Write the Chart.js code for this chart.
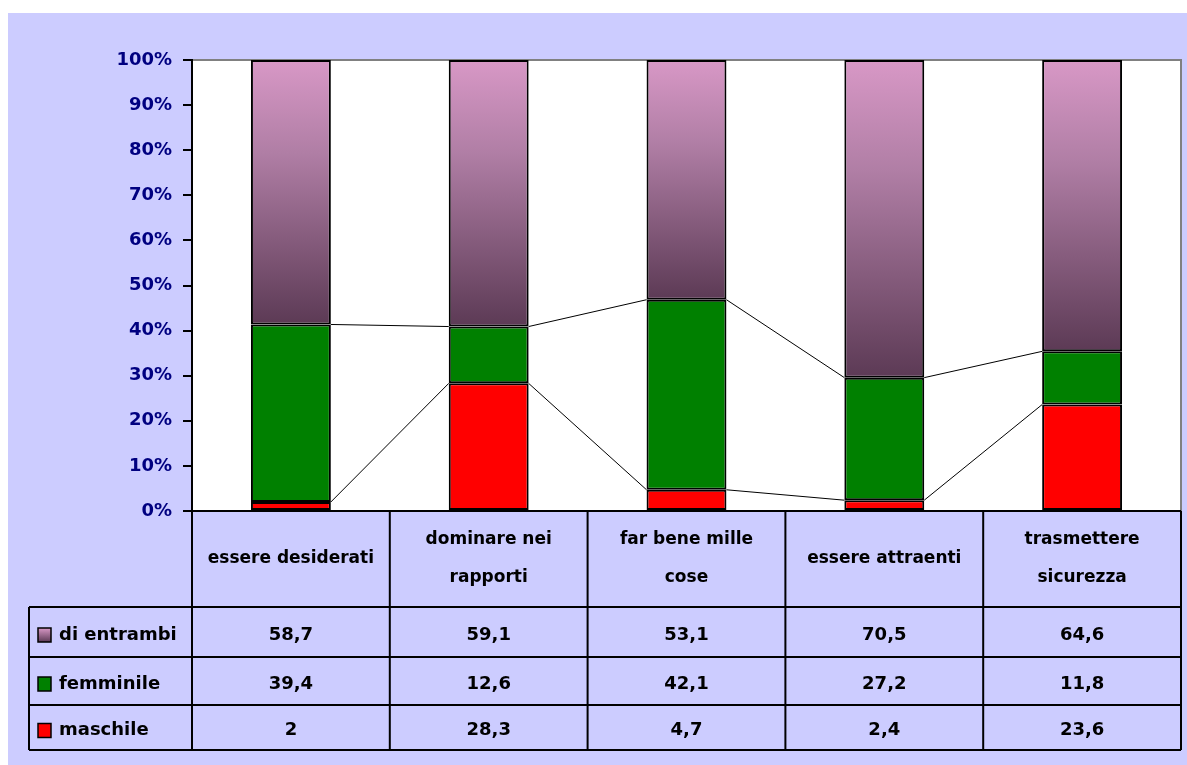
<!DOCTYPE html>
<html>
<head>
<meta charset="utf-8">
<script src="https://cdn.jsdelivr.net/npm/chart.js@4.4.1/dist/chart.umd.min.js"></script>
<style>
  html, body { margin: 0; padding: 0; background: #fff; }
  #wrap { width: 1187px; height: 765px; }
</style>
</head>
<body>
<div id="wrap"><canvas id="chart" width="1187" height="765"></canvas></div>
<script>
const categories = ['essere desiderati', 'dominare nei rapporti', 'far bene mille cose', 'essere attraenti', 'trasmettere sicurezza'];
const headerLines = [['essere desiderati'], ['dominare nei', 'rapporti'], ['far bene mille', 'cose'], ['essere attraenti'], ['trasmettere', 'sicurezza']];
const maschile = [2, 28.3, 4.7, 2.4, 23.6];
const femminile = [39.4, 12.6, 42.1, 27.2, 11.8];
const diEntrambi = [58.7, 59.1, 53.1, 70.5, 64.6];
const yTicks = [0, 10, 20, 30, 40, 50, 60, 70, 80, 90, 100];

const totals = categories.map((_, i) => maschile[i] + femminile[i] + diEntrambi[i]);
const pct = (arr) => arr.map((v, i) => v / totals[i] * 100);

const FONT = '"DejaVu Sans", sans-serif';
const LAVENDER = '#ccccff';

const purpleGradient = (ctx) => {
  const chart = ctx.chart;
  if (!chart.chartArea || ctx.dataIndex === undefined) return '#a06e96';
  const y = chart.scales.y;
  const i = ctx.dataIndex;
  const base = (maschile[i] + femminile[i]) / totals[i] * 100;
  const g = chart.ctx.createLinearGradient(0, y.getPixelForValue(100), 0, y.getPixelForValue(base));
  g.addColorStop(0, '#d898c6');
  g.addColorStop(0.35, '#b07ea5');
  g.addColorStop(1, '#5c3a55');
  return g;
};

const background = {
  id: 'background',
  beforeDraw(chart) {
    const { ctx, chartArea: a } = chart;
    ctx.save();
    ctx.fillStyle = '#fff';
    ctx.fillRect(0, 0, chart.width, chart.height);
    ctx.fillStyle = LAVENDER;
    ctx.fillRect(8, 13, chart.width - 8, chart.height - 13);
    ctx.fillStyle = '#fff';
    ctx.fillRect(a.left, a.top, a.right - a.left, a.bottom - a.top);
    ctx.strokeStyle = '#808080';
    ctx.lineWidth = 2;
    ctx.beginPath();
    ctx.moveTo(a.left, a.top);
    ctx.lineTo(a.right, a.top);
    ctx.lineTo(a.right, a.bottom);
    ctx.stroke();
    ctx.restore();
  }
};

// Excel style series lines between the stacked segments
const seriesLines = {
  id: 'seriesLines',
  afterDatasetsDraw(chart) {
    const ctx = chart.ctx;
    ctx.save();
    ctx.strokeStyle = '#000';
    ctx.lineWidth = 1;
    [0, 1].forEach(d => {
      const bars = chart.getDatasetMeta(d).data;
      for (let i = 0; i < bars.length - 1; i++) {
        const a = bars[i], b = bars[i + 1];
        ctx.beginPath();
        ctx.moveTo(a.x + a.width / 2, a.y);
        ctx.lineTo(b.x - b.width / 2, b.y);
        ctx.stroke();
      }
    });
    ctx.restore();
  }
};

const dataTable = {
  id: 'dataTable',
  afterDraw(chart) {
    const { ctx, chartArea: a } = chart;
    const x = chart.scales.x;
    const half = (x.getPixelForValue(1) - x.getPixelForValue(0)) / 2;
    const edges = categories.map((_, i) => x.getPixelForValue(i) - half);
    edges.push(x.getPixelForValue(categories.length - 1) + half);
    const right = edges[edges.length - 1];
    const tableLeft = 29;
    const top = a.bottom;
    const rowsY = [top + 96, top + 146, top + 194, top + 239];

    ctx.save();
    ctx.strokeStyle = '#000';
    ctx.lineWidth = 2;
    ctx.beginPath();
    ctx.moveTo(a.left, top);
    ctx.lineTo(right, top);
    rowsY.forEach(y => { ctx.moveTo(tableLeft, y); ctx.lineTo(right, y); });
    edges.forEach(ex => { ctx.moveTo(ex, top); ctx.lineTo(ex, rowsY[3]); });
    ctx.moveTo(tableLeft, rowsY[0]);
    ctx.lineTo(tableLeft, rowsY[3]);
    ctx.stroke();

    ctx.fillStyle = '#000';
    ctx.font = 'bold 17px ' + FONT;
    ctx.textAlign = 'center';
    ctx.textBaseline = 'middle';
    headerLines.forEach((lines, i) => {
      const cx = (edges[i] + edges[i + 1]) / 2;
      const cy = top + 48;
      lines.forEach((t, k) => {
        ctx.fillText(t, cx, cy + (k - (lines.length - 1) / 2) * 38);
      });
    });

    const rows = [
      { label: 'di entrambi', values: diEntrambi, color: null },
      { label: 'femminile', values: femminile, color: '#008000' },
      { label: 'maschile', values: maschile, color: '#ff0000' }
    ];
    ctx.font = 'bold 18px ' + FONT;
    rows.forEach((r, k) => {
      const y0 = rowsY[k], y1 = rowsY[k + 1];
      const cy = (y0 + y1) / 2 + 3;
      r.values.forEach((v, i) => {
        ctx.textAlign = 'center';
        ctx.fillText(String(v).replace('.', ','), (edges[i] + edges[i + 1]) / 2, cy);
      });
      let fill = r.color;
      if (!fill) {
        fill = ctx.createLinearGradient(0, cy - 7, 0, cy + 7);
        fill.addColorStop(0, '#d898c6');
        fill.addColorStop(1, '#5c3a55');
      }
      ctx.fillStyle = fill;
      ctx.fillRect(38, cy - 7, 13, 14);
      ctx.lineWidth = 1.5;
      ctx.strokeRect(38, cy - 7, 13, 14);
      ctx.fillStyle = '#000';
      ctx.textAlign = 'left';
      ctx.fillText(r.label, 59, cy);
    });
    ctx.restore();
  }
};

new Chart(document.getElementById('chart'), {
  type: 'bar',
  data: {
    labels: categories,
    datasets: [
      { label: 'maschile', data: pct(maschile), backgroundColor: '#ff0000' },
      { label: 'femminile', data: pct(femminile), backgroundColor: '#008000' },
      { label: 'di entrambi', data: pct(diEntrambi), backgroundColor: purpleGradient }
    ]
  },
  options: {
    responsive: false,
    animation: false,
    events: [],
    layout: {
      padding: { top: 60, right: 6, bottom: 254, left: 0 }
    },
    datasets: {
      bar: {
        categoryPercentage: 1,
        barPercentage: 0.404,
        borderWidth: 2,
        borderColor: '#000',
        borderSkipped: false
      }
    },
    scales: {
      x: {
        stacked: true,
        display: false
      },
      y: {
        stacked: true,
        min: 0,
        max: 100,
        afterBuildTicks: (scale) => {
          scale.ticks = yTicks.map(v => ({ value: v }));
        },
        afterFit: (scale) => {
          scale.width = 192;
          scale.paddingTop = 0;
          scale.paddingBottom = 0;
        },
        border: { display: true, color: '#000', width: 2 },
        grid: {
          drawOnChartArea: false,
          drawTicks: true,
          tickLength: 9,
          color: '#000',
          lineWidth: 2
        },
        ticks: {
          padding: 11,
          color: '#000080',
          font: { family: FONT, size: 18, weight: 'bold' },
          callback: (v) => v + '%'
        }
      }
    },
    plugins: {
      legend: { display: false },
      tooltip: { enabled: false },
      title: { display: false }
    }
  },
  plugins: [background, seriesLines, dataTable]
});
</script>
</body>
</html>
